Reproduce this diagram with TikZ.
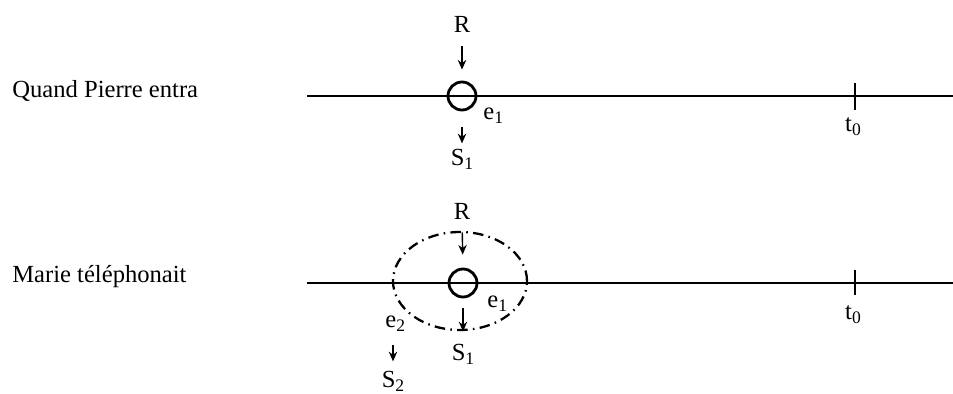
\documentclass[tikz,border=0pt]{standalone}
\usepackage{fontspec}
\setmainfont{Liberation Serif}
\usetikzlibrary{arrows.meta,positioning,shapes.geometric}
\newcommand{\lowsub}[1]{\raisebox{-0.3ex}{\fontsize{10}{12}\selectfont #1}}
\tikzset{
  axis/.style={line width=0.8pt},
  evt/.style={circle, draw, line width=1.6pt, minimum size=0.56cm, inner sep=0pt},
  ring/.style={ellipse, draw, line width=1.3pt, minimum width=2.68cm, minimum height=1.96cm, inner sep=0pt,
    dash pattern=on 6pt off 3pt on 0.9pt off 3pt},
  lbl/.style={inner sep=0pt, font=\fontsize{14}{16}\selectfont},
  arr/.style={-{Stealth[length=5.5pt,width=4.8pt]}, line width=0.8pt},
}

\begin{document}
\begin{tikzpicture}[x=0.02cm,y=-0.02cm]
  \useasboundingbox (0,0) rectangle (953,394);
  % Quand Pierre entra
  \node[lbl, anchor=base west] (q1) at (12,98) {Quand Pierre entra};
  \coordinate (l1) at (307,96);
  \coordinate (r1) at (953,96);
  \draw[axis] (l1) -- (r1);
  \coordinate (k1a) at (855,83);
  \coordinate (k1b) at (855,110);
  \draw[axis] (k1a) -- (k1b);
  \node[lbl, anchor=base] (t1) at (853,132) {t\lowsub{0}};
  \node[evt] (c1) at (462,96) {};
  \node[lbl, anchor=base] (R1) at (462,33) {R};
  \node[lbl, anchor=base west] (e1) at (483,120) {e\lowsub{1}};
  \node[lbl, anchor=base] (S1) at (462,166) {S\lowsub{1}};
  \draw[arr, shorten <=0.26cm, shorten >=0.22cm] (R1.south) -- (c1.north);
  \draw[arr, shorten <=0.32cm, shorten >=0.12cm] (c1.south) -- (S1.north);
  % Marie telephonait
  \node[lbl, anchor=base west] (q2) at (12,283) {Marie téléphonait};
  \coordinate (l2) at (307,283);
  \coordinate (r2) at (953,283);
  \draw[axis] (l2) -- (r2);
  \coordinate (k2a) at (855,270);
  \coordinate (k2b) at (855,295);
  \draw[axis] (k2a) -- (k2b);
  \node[lbl, anchor=base] (t2) at (853,320) {t\lowsub{0}};
  \node[ring] (span) at (460,281) {};
  \node[evt] (c2) at (463,283) {};
  \node[lbl, anchor=base] (R2) at (462,220) {R};
  \node[lbl, anchor=base west] (e1b) at (487,308) {e\lowsub{1}};
  \node[lbl, anchor=base] (S1b) at (463,361) {S\lowsub{1}};
  \node[lbl, anchor=base west] (e2) at (385,328) {e\lowsub{2}};
  \node[lbl, anchor=base] (S2) at (393,388) {S\lowsub{2}};
  \draw[arr, shorten <=0.24cm, shorten >=0.26cm] (R2.south) -- (c2.north);
  \draw[arr, shorten <=0.2cm, shorten >=0.26cm] (c2.south) -- (S1b.north);
  \draw[arr, shorten <=0.26cm, shorten >=0.2cm] (e2.south -| S2) -- (S2.north);
\end{tikzpicture}
\end{document}
